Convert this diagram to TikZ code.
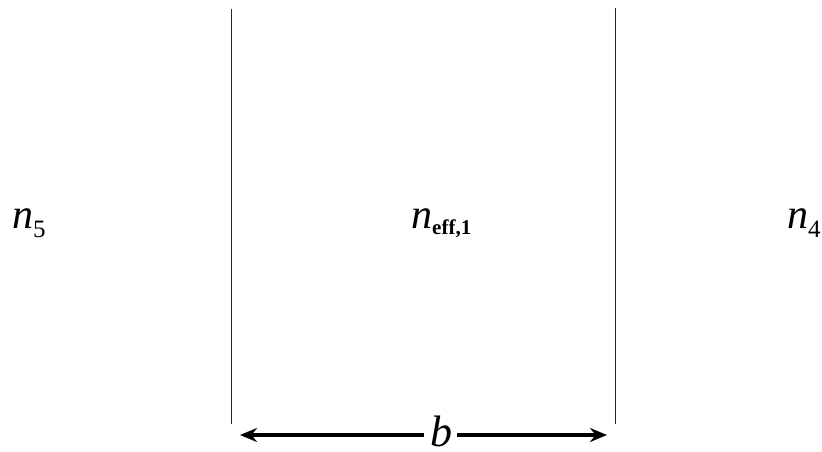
\documentclass[tikz,border=0pt]{standalone}
\usepackage{fontspec}
\setmainfont{Liberation Serif}
\usetikzlibrary{arrows.meta}
\newcommand{\idx}[2]{\raisebox{-#1pt}{\fontsize{25}{28}\selectfont\upshape #2}}
\begin{document}
\begin{tikzpicture} [
    x=1pt, y=-1pt,
    wall/.style={draw=black!85, line width=0.9pt},
    dim/.style={draw=black, line width=3.4pt, -{Stealth[length=17pt,width=14pt]}},
    lbl/.style={anchor=base west, inner sep=0pt, font=\fontsize{42}{48}\selectfont\itshape}
  ]
  \useasboundingbox (0,0) rectangle (822,452);
  % side walls of the strip
  \coordinate (lt) at (231,9);
  \coordinate (lb) at (231,424);
  \coordinate (rt) at (615,8);
  \coordinate (rb) at (615,424);
  \draw[wall] (lt) -- (lb);
  \draw[wall] (rt) -- (rb);
  % refractive indices
  \node[lbl] (n5) at (12,228) {n\idx{9}{5}};
  \node[lbl] (neff) at (411,228) {n\raisebox{-6pt}{\fontsize{21}{24}\selectfont\upshape\bfseries eff,1}};
  \node[lbl] (n4) at (787,228) {n\idx{9}{4}};
  % width
  \node[inner sep=0pt, anchor=base, font=\fontsize{44}{48}\selectfont\itshape] (b) at (441,446) {b};
  \coordinate (al) at (240,435);
  \coordinate (ar) at (607,435);
  \draw[dim] (b.west |- al) ++(-6,0) -- (al);
  \draw[dim] (b.east |- ar) ++(5,0) -- (ar);
\end{tikzpicture}
\end{document}
